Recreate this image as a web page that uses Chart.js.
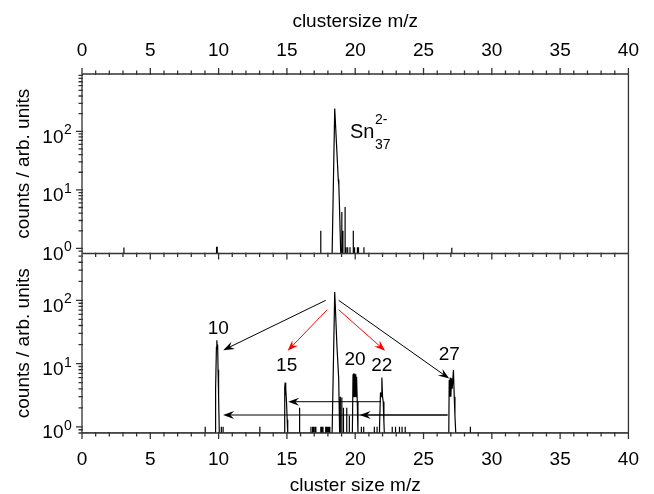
<!DOCTYPE html>
<html><head><meta charset="utf-8">
<script src="https://cdn.jsdelivr.net/npm/chart.js@4/dist/chart.umd.min.js"></script>
<style>html,body{margin:0;padding:0;background:#fff;overflow:hidden}canvas{display:block}</style>
</head><body>
<canvas id="c" width="654" height="494"></canvas>
<script>
// ---- data ----
const xMin = 0, xMax = 40;
const xTickValues = [0, 5, 10, 15, 20, 25, 30, 35, 40];
const yTopMin = 0.82, yTopMax = 950;
const yBotMin = 0.8, yBotMax = 550;
const yDecadeLabels = [0, 1, 2];
const xTitleTop = 'clustersize m/z';
const xTitleBottom = 'cluster size m/z';
const yTitle = 'counts / arb. units';

// upper spectrum (single Sn37 2- selection); 0 = no counts
const topMz = [0,
  3.07, 3.07, 3.07,
  9.85, 9.85, 9.90, 9.90,
  17.48, 17.48, 17.48,
  18.31, 18.50, 18.76, 18.80, 18.84, 18.94,
  19.02, 19.02, 19.02,
  19.10, 19.10, 19.10,
  19.26, 19.26, 19.26,
  19.33, 19.33, 19.33,
  19.45, 19.45, 19.45,
  19.62, 19.62, 19.62,
  19.86, 19.86, 19.86,
  19.95, 19.95, 19.95,
  20.16, 20.16, 20.16,
  20.24, 20.24, 20.24,
  20.64, 20.64, 20.64,
  27.07, 27.07, 27.07,
  40];
const topCounts = [0,
  0, 1.04, 0,
  0, 1.04, 1.04, 0,
  0, 2.0, 0,
  0, 245, 15, 12, 6, 0,
  0, 4.2, 0,
  0, 2.0, 0,
  0, 5.1, 0,
  0, 1.05, 0,
  0, 1.05, 0,
  0, 1.05, 0,
  0, 2.0, 0,
  0, 1.05, 0,
  0, 1.05, 0,
  0, 1.05, 0,
  0, 1.05, 0,
  0, 1.03, 0,
  0];

// lower spectrum (fragmentation); 0 = no counts
const botMz = [0,
  9.02, 9.02, 9.02,
  9.74, 9.76, 9.80, 9.84, 9.87, 9.90, 9.93, 9.96, 10.00, 10.05,
  10.20, 10.20, 10.20,
  10.33, 10.33, 10.33,
  13.02, 13.02, 13.02,
  14.80, 14.84, 14.87, 14.90, 14.93, 14.97, 15.02, 15.06,
  15.93, 15.93, 15.93,
  16.76, 16.76, 16.76, 16.88, 16.88, 16.88, 16.95, 16.95, 16.95,
  17.05, 17.05, 17.05, 17.12, 17.12, 17.12, 17.48, 17.48, 17.48,
  17.55, 17.55, 17.55, 17.64, 17.64, 17.64, 17.84, 17.84, 17.84,
  17.91, 17.91, 17.91, 18.00, 18.00, 18.00, 18.07, 18.07, 18.07,
  18.14, 18.14, 18.14,
  18.31, 18.50, 18.66, 18.79, 18.86,
  18.91, 18.91, 18.91, 19.02, 19.02, 19.02, 19.14, 19.14, 19.14,
  19.38, 19.38, 19.38, 19.57, 19.57, 19.57,
  19.79, 19.84, 19.86, 19.88, 19.90, 19.92, 19.95, 19.97, 20.00, 20.03, 20.05, 20.08, 20.10, 20.15, 20.20,
  20.45, 20.45, 20.45, 20.62, 20.62, 20.62,
  21.40, 21.40, 21.40, 21.60, 21.60, 21.60,
  21.76, 21.78, 21.85, 21.90, 21.95, 22.00, 22.05, 22.10, 22.13,
  22.71, 22.71, 22.71, 22.95, 22.95, 22.95, 23.24, 23.24, 23.24,
  23.43, 23.43, 23.43, 23.66, 23.66, 23.66,
  26.85, 26.88, 26.92, 26.95, 27.00, 27.05, 27.10, 27.19, 27.25, 27.30, 27.36,
  28.43, 28.43, 28.43,
  40];
const botCounts = [0,
  0, 1.0, 0,
  0, 3.8, 4.0, 18, 23.4, 17, 20, 8, 3, 0,
  0, 1.0, 0,
  0, 1.0, 0,
  0, 1.0, 0,
  0, 4.2, 5.0, 3.2, 4.0, 2.5, 1.3, 0,
  0, 2.0, 0,
  0, 1.0, 0, 0, 1.0, 0, 0, 1.0, 0,
  0, 1.0, 0, 0, 1.0, 0, 0, 1.0, 0,
  0, 1.0, 0, 0, 1.0, 0, 0, 1.0, 0,
  0, 1.0, 0, 0, 1.0, 0, 0, 1.0, 0,
  0, 1.0, 0,
  0, 135, 19.5, 5.8, 0,
  0, 3.0, 0, 0, 2.9, 0, 0, 2.0, 0,
  0, 2.0, 0, 0, 1.5, 0,
  0, 6.8, 7.0, 3.0, 6.5, 3.0, 7.0, 3.0, 6.8, 3.0, 5.0, 3.0, 6.2, 2.5, 0,
  0, 1.0, 0, 0, 1.0, 0,
  0, 1.0, 0, 0, 1.0, 0,
  0, 1.0, 3.5, 3.0, 6.0, 3.0, 2.5, 1.2, 0,
  0, 1.0, 0, 0, 1.0, 0, 0, 1.0, 0,
  0, 1.0, 0, 0, 1.0, 0,
  0, 5.5, 3.0, 6.0, 3.0, 5.8, 4.0, 7.9, 3.0, 1.5, 0,
  0, 1.0, 0,
  0];

// annotations (data coordinates of the lower panel)
const peakLabels = ['10', '15', '20', '22', '27'];
const peakLabelMz = [9.98, 14.98, 19.98, 21.95, 26.88];
const peakLabelCounts = [35.8, 9.1, 11.3, 9.1, 13.6];
const arrowFromMz = [17.84, 17.95, 18.79, 18.79, 21.88, 26.76, 26.76];
const arrowFromCounts = [100, 71, 71, 100, 2.5, 1.54, 1.54];
const arrowToMz = [10.34, 15.05, 22.19, 26.88, 15.09, 10.33, 20.33];
const arrowToCounts = [16.3, 15.9, 15.9, 5.8, 2.5, 1.54, 1.54];
const arrowColors = ['#000', '#f00', '#f00', '#000', '#000', '#000', '#000'];
// parent ion label (upper panel)
const parentLabel = {base: 'Sn', sup: '2-', sub: '37', mz: 19.62, counts: 77.8};

// ---- drawing ----
const FONT = "'Liberation Sans', Arial, Helvetica, sans-serif";
Chart.defaults.font.family = FONT;
Chart.defaults.color = '#000';

// zero counts sit on the floor of the log axis
function toPoints(mz, counts, floor) {
  return mz.map((m, i) => ({x: m, y: counts[i] > 0 ? counts[i] : floor}));
}

function drawArrow(ctx, x1, y1, x2, y2, color) {
  const ang = Math.atan2(y2 - y1, x2 - x1);
  const len = 11, wid = 4;
  ctx.save();
  ctx.strokeStyle = color; ctx.fillStyle = color; ctx.lineWidth = 1;
  ctx.beginPath();
  ctx.moveTo(x1, y1);
  ctx.lineTo(x2 - Math.cos(ang) * len * 0.6, y2 - Math.sin(ang) * len * 0.6);
  ctx.stroke();
  ctx.translate(x2, y2); ctx.rotate(ang);
  ctx.beginPath();
  ctx.moveTo(0, 0);
  ctx.lineTo(-len, -wid);
  ctx.lineTo(-len * 0.65, 0);
  ctx.lineTo(-len, wid);
  ctx.closePath();
  ctx.fill();
  ctx.restore();
}

const framePlugin = {
  id: 'frame',
  afterDatasetsDraw(chart) {
    const ctx = chart.ctx;
    const {x, yTop, yBot} = chart.scales;
    const L = x.left, R = x.right, T = yTop.top, M = yTop.bottom, B = yBot.bottom;
    ctx.save();
    ctx.strokeStyle = '#333'; ctx.lineWidth = 1.3;
    ctx.beginPath();
    ctx.rect(L, T, R - L, B - T);
    ctx.moveTo(L, M); ctx.lineTo(R, M);
    for (let v = xMin; v <= xMax; v++) {
      const px = x.getPixelForValue(v);
      const len = (v % 5 === 0) ? 6 : 3.5;
      ctx.moveTo(px, T + 1); ctx.lineTo(px, T - len);
      ctx.moveTo(px, M - 1); ctx.lineTo(px, M + len);
      ctx.moveTo(px, B - 1); ctx.lineTo(px, B + len);
    }
    [yTop, yBot].forEach(s => {
      for (let e = -1; e <= 3; e++) {
        for (let m = 1; m <= 9; m++) {
          const v = m * Math.pow(10, e);
          if (v < s.min || v > s.max) continue;
          const py = s.getPixelForValue(v);
          const len = m === 1 ? 6 : 3.5;
          ctx.moveTo(L + 1, py); ctx.lineTo(L - len, py);
        }
      }
    });
    ctx.stroke();
    ctx.fillStyle = '#000';
    [yTop, yBot].forEach(s => {
      yDecadeLabels.forEach(e => {
        const py = s.getPixelForValue(Math.pow(10, e));
        ctx.font = '19px ' + FONT;
        ctx.textAlign = 'right'; ctx.textBaseline = 'alphabetic';
        ctx.fillText('10', L - 18.5, py + 11.5);
        ctx.font = '14px ' + FONT;
        ctx.textAlign = 'left';
        ctx.fillText(String(e), L - 18, py + 3);
      });
    });
    const px0 = x.getPixelForValue(parentLabel.mz), py0 = yTop.getPixelForValue(parentLabel.counts);
    ctx.font = '20px ' + FONT; ctx.textAlign = 'left';
    ctx.fillText(parentLabel.base, px0, py0);
    const w = ctx.measureText(parentLabel.base).width;
    ctx.font = '14px ' + FONT;
    ctx.fillText(parentLabel.sup, px0 + w + 0.5, py0 - 13.3);
    ctx.fillText(parentLabel.sub, px0 + w + 0.5, py0 + 11);
    ctx.font = '19px ' + FONT; ctx.textAlign = 'center'; ctx.textBaseline = 'middle';
    peakLabels.forEach((t, i) => {
      ctx.fillText(t, x.getPixelForValue(peakLabelMz[i]), yBot.getPixelForValue(peakLabelCounts[i]));
    });
    ctx.restore();
    arrowFromMz.forEach((m, i) => {
      drawArrow(ctx, x.getPixelForValue(m), yBot.getPixelForValue(arrowFromCounts[i]),
        x.getPixelForValue(arrowToMz[i]), yBot.getPixelForValue(arrowToCounts[i]), arrowColors[i]);
    });
  }
};

const xTicksCfg = {autoSkip: false, maxRotation: 0, font: {size: 19}, color: '#000'};
function fixTicks(scale) { scale.ticks = xTickValues.map(v => ({value: v})); }
const yTitleCfg = {display: true, text: yTitle, font: {size: 19}, color: '#000', padding: {top: 12, bottom: 0}};

new Chart(document.getElementById('c'), {
  type: 'line',
  data: {
    datasets: [
      {data: toPoints(topMz, topCounts, yTopMin), xAxisID: 'x', yAxisID: 'yTop',
       borderColor: '#000', borderWidth: 1.2, pointRadius: 0, tension: 0, fill: false},
      {data: toPoints(botMz, botCounts, yBotMin), xAxisID: 'x', yAxisID: 'yBot',
       borderColor: '#000', borderWidth: 1.2, pointRadius: 0, tension: 0, fill: false}
    ]
  },
  options: {
    responsive: false, animation: false, devicePixelRatio: 1,
    layout: {padding: {left: 0, right: 12, top: 0, bottom: 0}},
    plugins: {legend: {display: false}, tooltip: {enabled: false}},
    scales: {
      xTop: {
        type: 'linear', position: 'top', min: xMin, max: xMax,
        grid: {display: false, drawTicks: false}, border: {display: false},
        ticks: Object.assign({padding: 12}, xTicksCfg), afterBuildTicks: fixTicks,
        title: {display: true, text: xTitleTop, font: {size: 19}, color: '#000', padding: {top: 10, bottom: 0}},
        afterFit(s) { s.height = 74; }
      },
      yBot: {
        type: 'logarithmic', position: 'left', stack: 'v', stackWeight: 1, min: yBotMin, max: yBotMax,
        grid: {display: false, drawTicks: false}, border: {display: false}, ticks: {display: false},
        title: yTitleCfg,
        afterFit(s) { s.width = 82; }
      },
      yTop: {
        type: 'logarithmic', position: 'left', stack: 'v', stackWeight: 1, min: yTopMin, max: yTopMax,
        grid: {display: false, drawTicks: false}, border: {display: false}, ticks: {display: false},
        title: yTitleCfg,
        afterFit(s) { s.width = 82; }
      },
      x: {
        type: 'linear', position: 'bottom', min: xMin, max: xMax,
        grid: {display: false, drawTicks: false}, border: {display: false},
        ticks: Object.assign({padding: 15}, xTicksCfg), afterBuildTicks: fixTicks,
        title: {display: true, text: xTitleBottom, font: {size: 19}, color: '#000', padding: {top: 0, bottom: -3}},
        afterFit(s) { s.height = 61; }
      }
    }
  },
  plugins: [framePlugin]
});
</script>
</body></html>
